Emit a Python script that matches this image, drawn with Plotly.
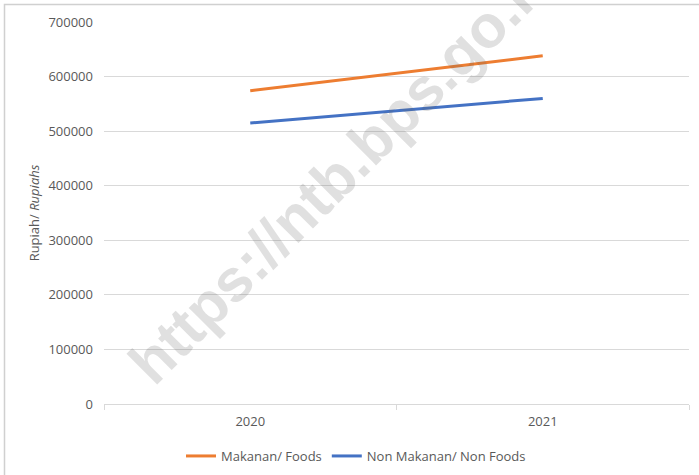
import plotly.graph_objects as go

years = ["2020", "2021"]
foods = [574000, 638000]
non_foods = [515000, 560000]
series_names = ["Makanan/ Foods", "Non Makanan/ Non Foods"]
y_ticks = [0, 100000, 200000, 300000, 400000, 500000, 600000, 700000]

W, H = 699, 475
ML, MR, MT, MB = 104, 10, 22, 71
pw = W - ML - MR
ph = H - MT - MB

def px_x(p):
    return (p - ML) / pw

def px_y(p):
    return (H - MB - p) / ph

FONT = "Open Sans"
GREY = "#595959"

fig = go.Figure()
fig.add_trace(go.Scatter(x=years, y=foods, mode="lines", name=series_names[0],
                         line=dict(color="#ED7D31", width=3)))
fig.add_trace(go.Scatter(x=years, y=non_foods, mode="lines", name=series_names[1],
                         line=dict(color="#4472C4", width=3)))

fig.update_layout(
    width=W, height=H,
    margin=dict(l=ML, r=MR, t=MT, b=MB, autoexpand=False),
    paper_bgcolor="white", plot_bgcolor="white",
    font=dict(family=FONT, size=13, color=GREY),
    showlegend=True,
    legend=dict(orientation="h", x=356 / W, xanchor="center", xref="container",
                y=1 - 456 / H, yanchor="middle", yref="container",
                font=dict(size=13, color=GREY),
                itemwidth=30, tracegroupgap=0),
    xaxis=dict(type="category", range=[-0.5, 1.5], showgrid=False, automargin=False,
               showline=True, linecolor="#d9d9d9", linewidth=1,
               ticks="outside", tickson="boundaries", ticklen=5, tickcolor="#d9d9d9",
               ticklabelstandoff=5,
               tickfont=dict(size=13, color=GREY)),
    yaxis=dict(range=[0, 700000], tickvals=y_ticks, tickformat="d", automargin=False,
               showgrid=True, gridcolor="#d9d9d9", gridwidth=1,
               zeroline=False, showline=False, ticks="",
               ticklabelstandoff=10,
               tickfont=dict(size=13, color=GREY),
               title=dict(text="Rupiah/ <i>Rupiahs</i>", font=dict(size=13, color=GREY),
                          standoff=5)),
)

# outer chart border (top and left visible in the reference)
fig.add_shape(type="rect", xref="paper", yref="paper",
              x0=px_x(4.5), x1=px_x(720), y0=px_y(4.5), y1=px_y(500),
              line=dict(color="#d0d0d0", width=1.5), fillcolor="rgba(0,0,0,0)", layer="above")

# watermark
fig.add_annotation(text="<b>https://ntb.bps.go.id</b>", xref="paper", yref="paper",
                   x=px_x(343), y=px_y(169), showarrow=False, textangle=-45,
                   font=dict(family="Liberation Sans", size=60, color="rgba(100,100,100,0.2)"))

fig.write_html("out.html", config={"displayModeBar": False},
               post_script="document.body.style.margin='0px';")
